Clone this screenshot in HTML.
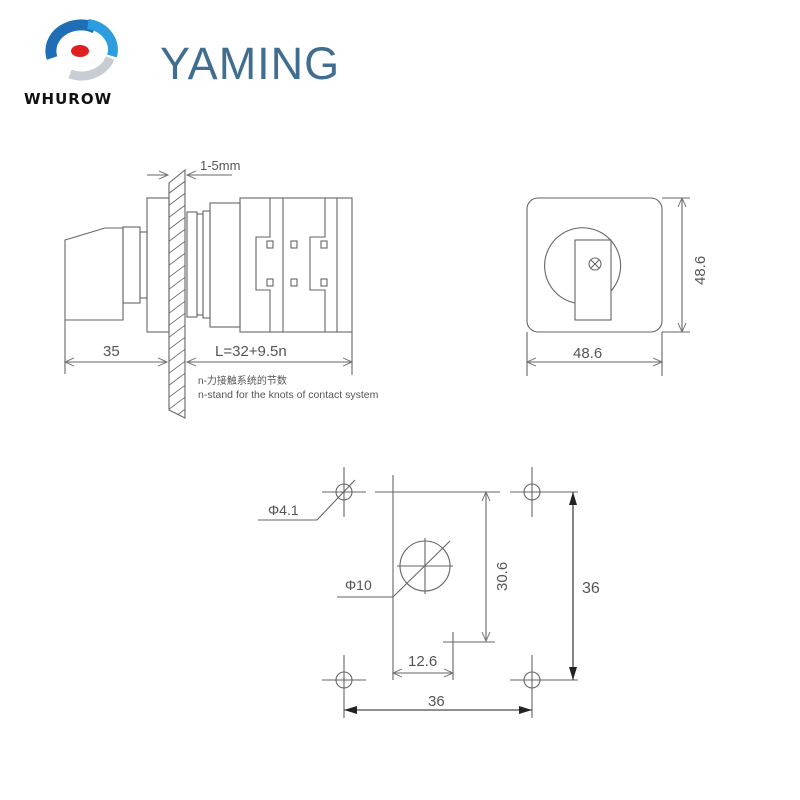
<!DOCTYPE html>
<html><head><meta charset="utf-8"><style>
html,body{margin:0;padding:0;background:#fff;}
svg{display:block;}
text{font-family:"Liberation Sans","Noto Sans CJK SC",sans-serif;fill:#555;}
</style></head><body>
<svg width="800" height="800" viewBox="0 0 800 800" xmlns="http://www.w3.org/2000/svg">
<defs>
<marker id="oa" markerWidth="10" markerHeight="10" refX="9" refY="5" orient="auto-start-reverse" markerUnits="userSpaceOnUse"><path d="M0,1 L9,5 L0,9" fill="none" stroke="#777" stroke-width="1"/></marker>
<marker id="fa" markerWidth="14" markerHeight="10" refX="13" refY="5" orient="auto-start-reverse" markerUnits="userSpaceOnUse"><path d="M0,1 L13,5 L0,9 Z" fill="#222"/></marker>
<clipPath id="pc"><polygon points="169,183 185,170 185,418 169,410"/></clipPath>
</defs>
<!-- logo -->
<path d="M52,58 A30,26 0 0 1 95,28" fill="none" stroke="#1f6db5" stroke-width="11"/>
<path d="M88,24 A30,26 0 0 1 112,56" fill="none" stroke="#2c9ee0" stroke-width="10"/>
<path d="M110,58 A30,26 0 0 1 70,74" fill="none" stroke="#c8cdd3" stroke-width="9"/>
<ellipse cx="80" cy="51" rx="9" ry="6" fill="#e02020"/>
<text x="24" y="104" style="font-family:'DejaVu Sans',sans-serif;font-weight:bold;font-size:15px;fill:#111;letter-spacing:1px">WHUROW</text>
<text x="160" y="79" style="font-size:45px;fill:#3f6e90;letter-spacing:1px">YAMING</text>

<g fill="none" stroke="#666" stroke-width="1.1">
<!-- left view -->
<polygon points="65,240 105,228 123,228 123,320 65,320"/>
<rect x="123" y="227" width="17" height="76"/>
<rect x="140" y="232" width="7" height="66"/>
<rect x="147" y="198" width="22" height="134"/>
<polygon points="169,183 185,170 185,418 169,410"/>
<g clip-path="url(#pc)" stroke-width="0.9">
<path d="M160,200 l40,-30 M160,212 l40,-30 M160,224 l40,-30 M160,236 l40,-30 M160,248 l40,-30 M160,260 l40,-30 M160,272 l40,-30 M160,284 l40,-30 M160,296 l40,-30 M160,308 l40,-30 M160,320 l40,-30 M160,332 l40,-30 M160,344 l40,-30 M160,356 l40,-30 M160,368 l40,-30 M160,380 l40,-30 M160,392 l40,-30 M160,404 l40,-30 M160,416 l40,-30 M160,428 l40,-30"/>
</g>
<rect x="187" y="212" width="10" height="105"/>
<rect x="197" y="214" width="6" height="101"/>
<rect x="203" y="211" width="7" height="107"/>
<rect x="210" y="203" width="30" height="124"/>
<rect x="240" y="198" width="112" height="134"/>
<path d="M270,198 V237 H256 V290 H270 V332 M283,198 V332 M325,198 V237 H310 V290 H325 V332 M337,198 V332"/>
<rect x="267" y="241" width="6" height="7"/><rect x="291" y="241" width="6" height="7"/><rect x="321" y="241" width="6" height="7"/>
<rect x="267" y="279" width="6" height="7"/><rect x="291" y="279" width="6" height="7"/><rect x="321" y="279" width="6" height="7"/>
<!-- dims left -->
<line x1="147" y1="175" x2="168" y2="175" marker-end="url(#oa)"/>
<line x1="232" y1="175" x2="187" y2="175" marker-end="url(#oa)"/>
<line x1="65" y1="320" x2="65" y2="374"/>
<line x1="352" y1="332" x2="352" y2="375"/>
<line x1="65" y1="362" x2="167" y2="362" marker-start="url(#oa)" marker-end="url(#oa)"/>
<line x1="187" y1="362" x2="352" y2="362" marker-start="url(#oa)" marker-end="url(#oa)"/>
<!-- front view -->
<rect x="527" y="198" width="135" height="134" rx="11"/>
<path d="M575,303 A38,38 0 1 1 611,291"/>
<rect x="575" y="240" width="36" height="80"/>
<circle cx="595" cy="264" r="6"/>
<path d="M591,260 l8,8 M599,260 l-8,8"/>
<line x1="662" y1="198" x2="690" y2="198"/>
<line x1="662" y1="332" x2="690" y2="332"/>
<line x1="682" y1="198" x2="682" y2="332" marker-start="url(#oa)" marker-end="url(#oa)"/>
<line x1="527" y1="332" x2="527" y2="376"/>
<line x1="662" y1="332" x2="662" y2="376"/>
<line x1="527" y1="362" x2="662" y2="362" marker-start="url(#oa)" marker-end="url(#oa)"/>
<!-- bottom -->
<g>
<circle cx="344" cy="492" r="8"/><path d="M322,492 H366 M344,467 V517"/>
<circle cx="532" cy="492" r="8"/><path d="M510,492 H578 M532,467 V517"/>
<circle cx="344" cy="680" r="8"/><path d="M322,680 H366 M344,655 V718"/>
<circle cx="532" cy="680" r="8"/><path d="M510,680 H578 M532,655 V718"/>
</g>
<path d="M355,480 L317,520 H258"/>
<line x1="393" y1="475" x2="393" y2="680"/>
<line x1="375" y1="492" x2="500" y2="492"/>
<circle cx="425" cy="566" r="25"/>
<path d="M397,566 H453 M425,538 V594 M450,541 L393,597 H337"/>
<line x1="486" y1="492" x2="486" y2="641" marker-start="url(#oa)" marker-end="url(#oa)"/>
<path d="M443,642 H495 M453,632 V680"/>
<line x1="393" y1="673" x2="453" y2="673" marker-start="url(#oa)" marker-end="url(#oa)"/>
<line x1="573" y1="492" x2="573" y2="680" stroke="#222" marker-start="url(#fa)" marker-end="url(#fa)"/>
<line x1="344" y1="710" x2="532" y2="710" stroke="#222" marker-start="url(#fa)" marker-end="url(#fa)"/>
</g>
<text x="200" y="170" font-size="13">1-5mm</text>
<text x="103" y="356" font-size="15">35</text>
<text x="215" y="356" font-size="15">L=32+9.5n</text>
<text x="198" y="384" font-size="10">n-力接触系统的节数</text>
<text x="198" y="398" font-size="10.5">n-stand for the knots of contact system</text>
<text x="573" y="358" font-size="15">48.6</text>
<text x="0" y="0" font-size="15" transform="translate(705,285) rotate(-90)">48.6</text>
<text x="268" y="515" font-size="14">Φ4.1</text>
<text x="345" y="590" font-size="14">Φ10</text>
<text x="0" y="0" font-size="15" transform="translate(507,591) rotate(-90)">30.6</text>
<text x="408" y="666" font-size="15">12.6</text>
<text x="582" y="593" font-size="16">36</text>
<text x="428" y="706" font-size="15">36</text>
</svg>
</body></html>
